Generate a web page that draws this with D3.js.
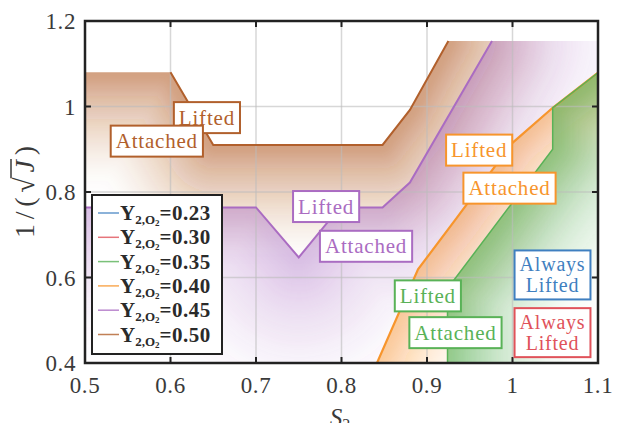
<!DOCTYPE html>
<html>
<head>
<meta charset="utf-8">
<script src="https://cdn.jsdelivr.net/npm/d3@7"></script>
<style>
  body { margin: 0; background: #fff; }
  text { font-family: "Liberation Serif", "DejaVu Serif", serif; }
</style>
</head>
<body>
<div id="vis"></div>
<script>
// ticks
const xTicks = [0.5, 0.6, 0.7, 0.8, 0.9, 1.0, 1.1];
const xTickLabels = ["0.5", "0.6", "0.7", "0.8", "0.9", "1", "1.1"];
const yTicks = [0.4, 0.6, 0.8, 1.0, 1.2];
const yTickLabels = ["0.4", "0.6", "0.8", "1", "1.2"];

// legend: Y_{2,O2} values
const legendValues = ["0.23", "0.30", "0.35", "0.40", "0.45", "0.50"];
const seriesColors = ["#3f7fc0", "#e0525a", "#59b257", "#f7952c", "#aa6cc2", "#b1602c"];

// lifted / attached boundaries, [S2, 1/sqrt(J)]
const boundary050 = [[0.5, 1.08], [0.6, 1.08], [0.65, 0.91], [0.848, 0.91], [0.88, 0.992], [0.925, 1.153]];
const boundary045 = [[0.5, 0.764], [0.7, 0.764], [0.75, 0.647], [0.798, 0.764], [0.848, 0.764], [0.88, 0.822], [0.976, 1.153]];
const boundary040 = [[0.8415, 0.4], [0.8895, 0.619], [0.935, 0.74], [1.0, 0.915], [1.047, 0.997], [1.1, 1.079]];
const boundary035 = [[0.924, 0.4], [0.924, 0.574], [1.047, 0.9], [1.047, 0.997], [1.1, 1.079]];

// regime labels (s = index into legendValues)
const regimeLabels = [
  { lines: ["Lifted"], s: 5, x: 0.6426, y: 0.974 },
  { lines: ["Attached"], s: 5, x: 0.584, y: 0.919 },
  { lines: ["Lifted"], s: 4, x: 0.782, y: 0.766 },
  { lines: ["Attached"], s: 4, x: 0.8287, y: 0.673 },
  { lines: ["Lifted"], s: 3, x: 0.961, y: 0.898 },
  { lines: ["Attached"], s: 3, x: 0.9965, y: 0.809 },
  { lines: ["Lifted"], s: 2, x: 0.901, y: 0.557 },
  { lines: ["Attached"], s: 2, x: 0.9333, y: 0.471 },
  { lines: ["Always", "Lifted"], s: 0, x: 1.0468, y: 0.606 },
  { lines: ["Always", "Lifted"], s: 1, x: 1.0468, y: 0.471 }
];

const width = 618, height = 423;
const x = d3.scaleLinear().domain([0.5, 1.1]).range([85, 598]);
const y = d3.scaleLinear().domain([0.4, 1.2]).range([363, 21]);

const svg = d3.select("#vis").append("svg")
  .attr("width", width).attr("height", height)
  .attr("font-family", "Liberation Serif, DejaVu Serif, serif");
const defs = svg.append("defs");

defs.append("clipPath").attr("id", "plotClip")
  .append("rect").attr("x", x(0.5)).attr("y", y(1.2))
  .attr("width", x(1.1) - x(0.5)).attr("height", y(0.4) - y(1.2));

defs.append("filter").attr("id", "soft")
  .attr("filterUnits", "userSpaceOnUse")
  .attr("x", 0).attr("y", 0).attr("width", width).attr("height", height)
  .append("feGaussianBlur").attr("stdDeviation", 4);

const line = d3.line().x(d => x(d[0])).y(d => y(d[1]));

const plot = svg.append("g").attr("clip-path", "url(#plotClip)");

// shading on the attached side, fading away from the boundary
function shade(pts, color, reach, peak, id) {
  const last = pts[pts.length - 1];
  const region = pts.concat([[1.1, last[1]], [1.1, 0.4], [pts[0][0], 0.4]]);
  defs.append("clipPath").attr("id", "reg" + id)
    .append("path").attr("d", line(region) + "Z");
  const g = plot.append("g").attr("clip-path", `url(#reg${id})`)
    .append("g").attr("filter", "url(#soft)");
  const n = 16, gamma = 1.7;
  const target = m => peak * Math.pow(m / n, gamma);
  for (let m = 1; m <= n; m++) {
    const a = 1 - (1 - target(m)) / (1 - target(m - 1));
    const k = n - m + 1;
    g.append("path")
      .attr("d", line(pts))
      .attr("fill", "none")
      .attr("stroke", color)
      .attr("stroke-opacity", a)
      .attr("stroke-width", 2 * reach * k / n)
      .attr("stroke-linejoin", "round")
      .attr("stroke-linecap", "round");
  }
}

shade(boundary050, seriesColors[5], 125, 0.58, 5);
shade(boundary045, seriesColors[4], 160, 0.42, 4);
shade(boundary040, seriesColors[3], 100, 0.45, 3);
shade(boundary035, seriesColors[2], 135, 0.64, 2);

// grid
plot.selectAll(".gx").data(xTicks.slice(1, -1)).enter().append("line")
  .attr("x1", d => x(d)).attr("x2", d => x(d))
  .attr("y1", y(0.4)).attr("y2", y(1.2))
  .attr("stroke", "#bdbdbd").attr("stroke-opacity", 0.6).attr("stroke-width", 1.5);
plot.selectAll(".gy").data(yTicks.slice(1, -1)).enter().append("line")
  .attr("y1", d => y(d)).attr("y2", d => y(d))
  .attr("x1", x(0.5)).attr("x2", x(1.1))
  .attr("stroke", "#bdbdbd").attr("stroke-opacity", 0.6).attr("stroke-width", 1.5);

// boundary lines
plot.append("path").attr("d", line(boundary050.slice(1)))
  .attr("fill", "none").attr("stroke", seriesColors[5]).attr("stroke-width", 2);
plot.append("path").attr("d", line(boundary045))
  .attr("fill", "none").attr("stroke", seriesColors[4]).attr("stroke-width", 2);
plot.append("path").attr("d", line(boundary040))
  .attr("fill", "none").attr("stroke", seriesColors[3]).attr("stroke-width", 2.2);
plot.append("path").attr("d", line(boundary035))
  .attr("fill", "none").attr("stroke", seriesColors[2]).attr("stroke-width", 1.5);

// axes box and inward ticks
const axisColor = "#222";
svg.append("rect")
  .attr("x", x(0.5)).attr("y", y(1.2))
  .attr("width", x(1.1) - x(0.5)).attr("height", y(0.4) - y(1.2))
  .attr("fill", "none").attr("stroke", axisColor).attr("stroke-width", 2.5);

const tk = 6;
xTicks.slice(1, -1).forEach(d => {
  svg.append("line").attr("x1", x(d)).attr("x2", x(d)).attr("y1", y(0.4)).attr("y2", y(0.4) - tk)
    .attr("stroke", axisColor).attr("stroke-width", 2);
  svg.append("line").attr("x1", x(d)).attr("x2", x(d)).attr("y1", y(1.2)).attr("y2", y(1.2) + tk)
    .attr("stroke", axisColor).attr("stroke-width", 2);
});
yTicks.slice(1, -1).forEach(d => {
  svg.append("line").attr("y1", y(d)).attr("y2", y(d)).attr("x1", x(0.5)).attr("x2", x(0.5) + tk)
    .attr("stroke", axisColor).attr("stroke-width", 2);
  svg.append("line").attr("y1", y(d)).attr("y2", y(d)).attr("x1", x(1.1)).attr("x2", x(1.1) - tk)
    .attr("stroke", axisColor).attr("stroke-width", 2);
});

// tick labels
svg.selectAll(".xl").data(xTicks).enter().append("text")
  .attr("x", d => x(d)).attr("y", 393)
  .attr("text-anchor", "middle").attr("font-size", 23).attr("fill", "#3a3a3a")
  .attr("letter-spacing", 0.6)
  .text((d, i) => xTickLabels[i]);
svg.selectAll(".yl").data(yTicks).enter().append("text")
  .attr("x", 76).attr("y", d => y(d) + 8)
  .attr("text-anchor", "end").attr("font-size", 23).attr("fill", "#3a3a3a")
  .attr("letter-spacing", 0.6)
  .text((d, i) => yTickLabels[i]);

// axis titles (bottom one is cut by the frame edge, as in the original)
const xt = svg.append("text").attr("x", 340).attr("y", 426)
  .attr("text-anchor", "middle").attr("fill", "#3a3a3a").attr("font-size", 25);
xt.append("tspan").attr("font-style", "italic").text("S");
xt.append("tspan").attr("font-size", 16).attr("dy", 4).text("2");

const yg = svg.append("g").attr("transform", "translate(24,192) rotate(-90)");
const yt = yg.append("text").attr("x", 0).attr("y", 10)
  .attr("text-anchor", "middle").attr("fill", "#3a3a3a").attr("font-size", 28)
  .attr("textLength", 92).attr("lengthAdjust", "spacing");
yt.append("tspan").text("1/(\u221A");
yt.append("tspan").attr("font-style", "italic").text("J");
yt.append("tspan").text(")");
const sq = yt.node().getExtentOfChar(3);
const jb = yt.node().getExtentOfChar(4);
yg.append("line")
  .attr("x1", sq.x + sq.width - 1).attr("x2", jb.x + jb.width + 1)
  .attr("y1", sq.y + 2).attr("y2", sq.y + 2)
  .attr("stroke", "#3a3a3a").attr("stroke-width", 1.5);

// regime labels
regimeLabels.forEach(l => {
  const g = svg.append("g");
  const cx = x(l.x), cy = y(l.y);
  const lh = 21;
  const t = g.append("text").attr("text-anchor", "middle")
    .attr("font-size", l.lines.length === 1 ? 21 : 20).attr("letter-spacing", 0.8)
    .attr("fill", seriesColors[l.s]);
  l.lines.forEach((s, i) => {
    t.append("tspan").attr("x", cx)
      .attr("y", cy + 7 + (i - (l.lines.length - 1) / 2) * lh)
      .text(s);
  });
  const bb = t.node().getBBox();
  const bh = l.lines.length === 1 ? 31 : 49;
  g.insert("rect", "text")
    .attr("x", bb.x - 5).attr("width", bb.width + 10)
    .attr("y", cy - bh / 2).attr("height", bh)
    .attr("fill", "#fff").attr("stroke", seriesColors[l.s]).attr("stroke-width", 2);
});

// legend
const lg = svg.append("g");
lg.append("rect").attr("x", 92).attr("y", 195).attr("width", 130).attr("height", 159)
  .attr("fill", "#fff").attr("stroke", axisColor).attr("stroke-width", 2);
legendValues.forEach((v, i) => {
  const ry = 213 + i * 24.3;
  lg.append("line").attr("x1", 98).attr("x2", 119).attr("y1", ry).attr("y2", ry)
    .attr("stroke", seriesColors[i]).attr("stroke-width", 1.5).attr("stroke-opacity", 0.8);
  const t = lg.append("text").attr("x", 120).attr("y", ry + 7)
    .attr("font-weight", "bold").attr("font-size", 21).attr("fill", "#2a2a2a");
  t.append("tspan").text("Y");
  t.append("tspan").attr("font-size", 13).attr("dy", 4).text("2,O");
  t.append("tspan").attr("font-size", 9).attr("dy", 2).text("2");
  t.append("tspan").attr("font-size", 21).attr("dy", -6).attr("letter-spacing", 0.5).text("=" + v);
});
</script>
</body>
</html>
